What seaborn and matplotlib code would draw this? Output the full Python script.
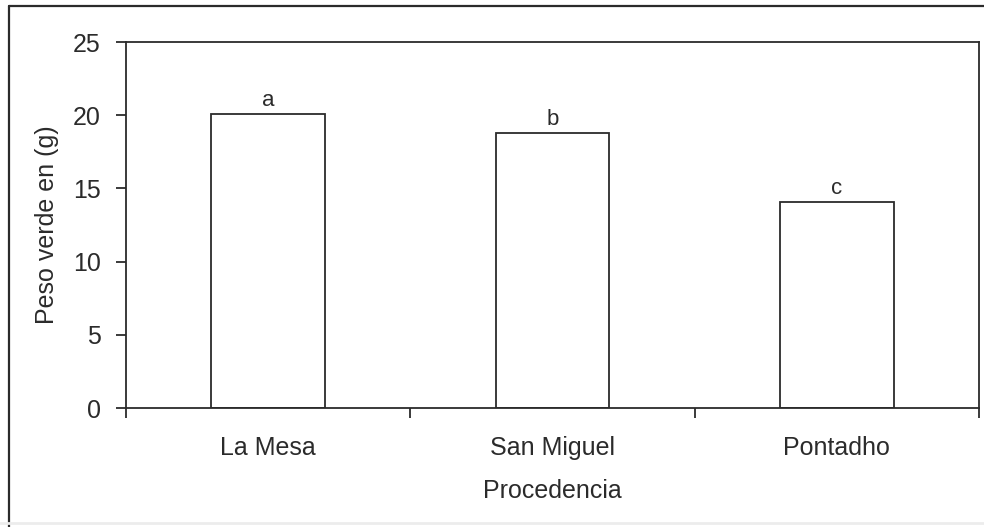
import matplotlib
matplotlib.use("Agg")
import matplotlib.pyplot as plt
from matplotlib.lines import Line2D
import seaborn as sns
import pandas as pd

# Green weight by origin, with significance letters
procedencia = ["La Mesa", "San Miguel", "Pontadho"]
peso_verde = [20.1, 18.8, 14.1]
letras = ["a", "b", "c"]
y_ticks = [0, 5, 10, 15, 20, 25]

sns.set_style("ticks")
plt.rcParams["font.family"] = ["Liberation Sans", "DejaVu Sans"]

ink = "#2b2b2b"
df = pd.DataFrame({"Procedencia": procedencia, "Peso": peso_verde})

fig = plt.figure(figsize=(9.84, 5.27), dpi=100)
ax = fig.add_axes([126 / 984, 1 - 408 / 527, (979 - 126) / 984, (408 - 42) / 527])

sns.barplot(data=df, x="Procedencia", y="Peso", order=procedencia,
            color="white", saturation=1, edgecolor=ink, linewidth=1.3,
            width=0.4, errorbar=None, ax=ax)

ax.bar_label(ax.containers[0], labels=letras, padding=2, fontsize=16, color=ink)

ax.set_xlim(-0.5, len(procedencia) - 0.5)
ax.set_ylim(0, 25)
ax.set_yticks(y_ticks)

# category labels centred, tick marks on the category boundaries
ax.set_xticks(range(len(procedencia)))
ax.set_xticklabels(procedencia)
ax.set_xticks([i - 0.5 for i in range(len(procedencia) + 1)], minor=True)
ax.tick_params(axis="x", which="major", length=0, pad=20, labelsize=18, colors=ink)
ax.tick_params(axis="x", which="minor", length=7, width=1.3, color=ink, direction="out")
ax.tick_params(axis="y", which="major", length=7, width=1.3, color=ink,
               direction="out", pad=11, labelsize=18, labelcolor=ink)

ax.set_xlabel("Procedencia", fontsize=18, color=ink, labelpad=14)
ax.set_ylabel("Peso verde en (g)", fontsize=18, color=ink, labelpad=10)

for side in ["left", "right", "top", "bottom"]:
    ax.spines[side].set_visible(True)
    ax.spines[side].set_color(ink)
    ax.spines[side].set_linewidth(1.3)

# outer frame of the figure
W, H = 984, 527
fig.add_artist(Line2D([9 / W, 9 / W], [0, 1 - 6 / H], transform=fig.transFigure,
                      color=ink, linewidth=1.6))
fig.add_artist(Line2D([9 / W, 1], [1 - 6 / H, 1 - 6 / H], transform=fig.transFigure,
                      color=ink, linewidth=1.6))
fig.add_artist(Line2D([0, 1], [1 - 523 / H, 1 - 523 / H], transform=fig.transFigure,
                      color="#ececec", linewidth=2))

fig.savefig("out.png", dpi=100, facecolor="white")
